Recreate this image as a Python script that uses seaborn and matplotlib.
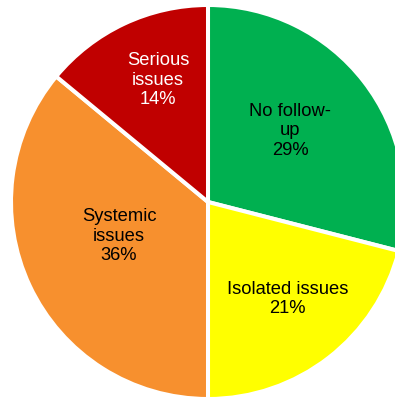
import numpy as np
import matplotlib
matplotlib.use("Agg")
import matplotlib.pyplot as plt
import seaborn as sns

sns.set_theme(style="white")
plt.rcParams['font.family'] = ['Liberation Sans', 'DejaVu Sans']

categories = ["No follow-\nup", "Isolated issues", "Systemic\nissues", "Serious\nissues"]
values = [29, 21, 36, 14]
colors = ["#00B050", "#FFFF00", "#F7902E", "#C00000"]
text_colors = ["black", "black", "black", "white"]

# label placement (radial distance, angular nudge in degrees)
label_r = [0.551, 0.637, 0.484, 0.669]
label_dtheta = [3.1, 1.5, -4.2, -2.9]

fig = plt.figure(figsize=(3.95, 4.0), dpi=100)
ax = fig.add_axes([0, 0, 1, 1])
wedges, _ = ax.pie(values, colors=colors, startangle=90, counterclock=False,
                   radius=1.0,
                   wedgeprops=dict(edgecolor="white", linewidth=2.9))
total = sum(values)
for w, cat, v, tc, r, dt in zip(wedges, categories, values, text_colors, label_r, label_dtheta):
    mid = np.deg2rad((w.theta1 + w.theta2) / 2 + dt)
    ax.text(r * np.cos(mid), r * np.sin(mid), f"{cat}\n{round(100*v/total)}%",
            ha="center", va="center", multialignment="center",
            fontsize=13.2, color=tc, linespacing=1.2)

s = 197.0
ax.set_xlim(-208 / s, (395 - 208) / s)
ax.set_ylim(-198 / s, 202 / s)
ax.set_aspect("auto")
ax.axis("off")
fig.savefig("out.png", dpi=100)
